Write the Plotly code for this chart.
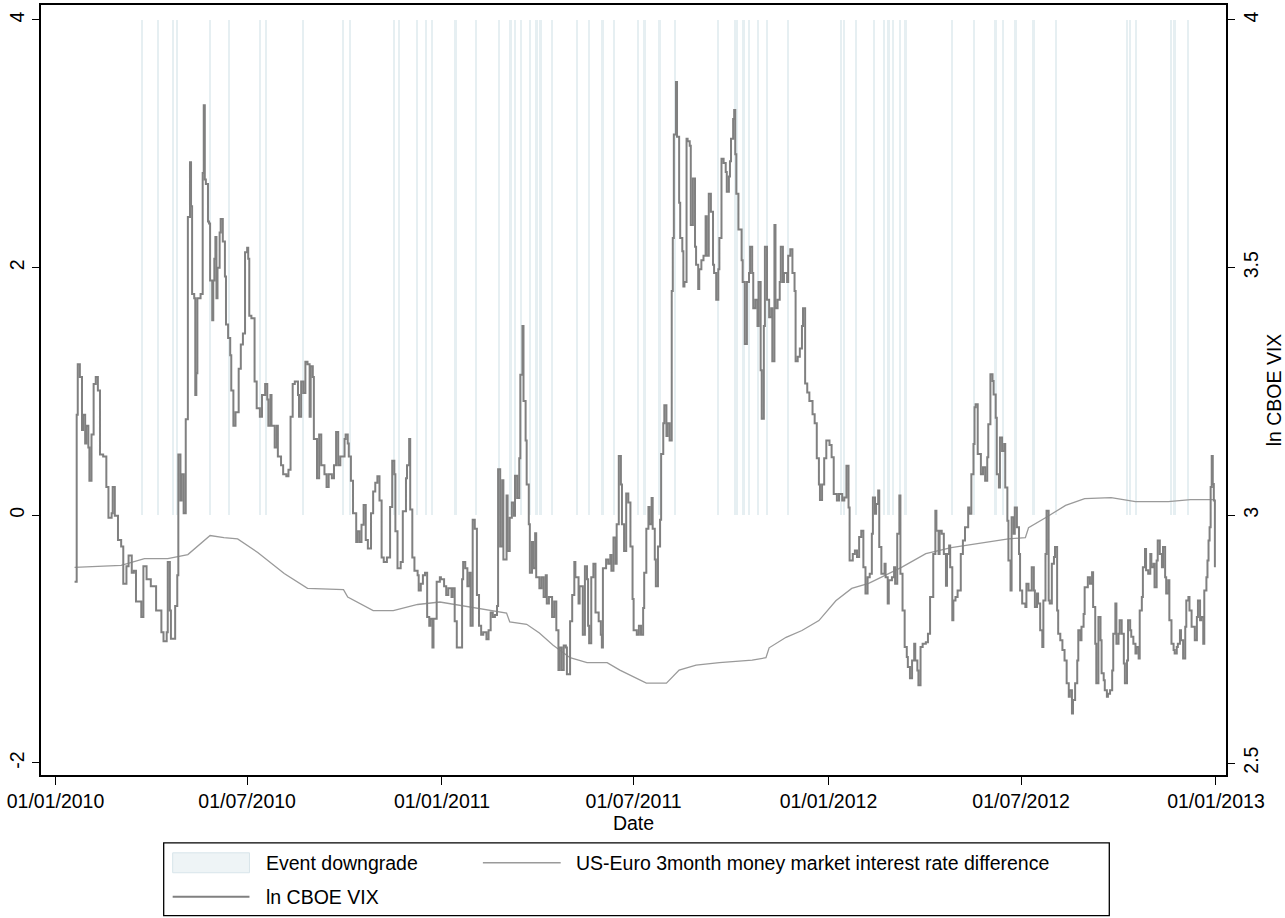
import pandas as pd
import plotly.graph_objects as go

# ---------------- data ----------------
# Event downgrade days (bars of height 4 on the left axis)
event_dates = [
    "2010-03-24", "2010-04-08", "2010-04-22", "2010-04-26", "2010-05-27", "2010-06-14",
    "2010-07-13", "2010-07-19", "2010-08-23", "2010-09-30", "2010-10-06", "2010-11-17",
    "2010-11-22", "2010-12-09", "2010-12-17", "2010-12-23", "2011-01-14", "2011-02-02",
    "2011-02-24", "2011-03-07", "2011-03-11", "2011-03-17", "2011-03-25", "2011-03-31",
    "2011-04-01", "2011-04-04", "2011-04-05", "2011-04-15", "2011-05-09", "2011-05-20",
    "2011-06-01", "2011-06-02", "2011-06-13", "2011-07-05", "2011-07-11", "2011-07-12",
    "2011-07-25", "2011-07-26", "2011-08-09", "2011-09-19", "2011-10-05", "2011-10-07",
    "2011-10-13", "2011-10-18", "2011-10-27", "2011-11-04", "2011-11-24", "2012-01-13",
    "2012-01-16", "2012-01-27", "2012-02-13", "2012-02-23", "2012-02-27", "2012-03-02",
    "2012-03-09", "2012-03-14", "2012-04-27", "2012-05-18", "2012-06-07", "2012-06-14",
    "2012-06-26", "2012-07-13", "2012-08-03", "2012-10-09", "2012-10-12", "2012-10-18",
    "2012-11-20", "2012-11-23", "2012-12-06",
]
event_height = 4

# US-Euro 3 month money market interest rate difference (left axis)
irate_dates = [
    "2010-01-19", "2010-02-10", "2010-03-04", "2010-03-26", "2010-04-17", "2010-05-06",
    "2010-05-16", "2010-05-27", "2010-06-09", "2010-06-22", "2010-07-11", "2010-08-05",
    "2010-08-27", "2010-09-30", "2010-10-04", "2010-10-28", "2010-11-16", "2010-12-09",
    "2010-12-30", "2011-01-27", "2011-02-22", "2011-03-03", "2011-03-06", "2011-03-22",
    "2011-04-03", "2011-04-16", "2011-05-02", "2011-05-18", "2011-06-06", "2011-06-18",
    "2011-07-13", "2011-08-01", "2011-08-13", "2011-08-29", "2011-09-20", "2011-10-21",
    "2011-11-03", "2011-11-06", "2011-11-22", "2011-12-07", "2011-12-23", "2012-01-08",
    "2012-01-23", "2012-02-08", "2012-03-10", "2012-04-02", "2012-04-26", "2012-05-29",
    "2012-06-19", "2012-07-05", "2012-07-08", "2012-07-24", "2012-08-12", "2012-08-30",
    "2012-09-24", "2012-10-17", "2012-11-17", "2012-12-08", "2012-12-31",
]
irate_values = [
    -0.42, -0.41, -0.405, -0.35, -0.35, -0.317,
    -0.244, -0.163, -0.18, -0.19, -0.30, -0.47,
    -0.59, -0.60, -0.66, -0.77, -0.77, -0.72,
    -0.70, -0.74, -0.78, -0.79, -0.86, -0.88,
    -0.95, -1.05, -1.15, -1.19, -1.19, -1.25,
    -1.355, -1.355, -1.25, -1.21, -1.19, -1.17,
    -1.15, -1.07, -0.985, -0.93, -0.85, -0.69,
    -0.59, -0.55, -0.42, -0.31, -0.26, -0.22,
    -0.19, -0.18, -0.10, -0.02, 0.08, 0.135,
    0.143, 0.11, 0.11, 0.126, 0.126,
]

# ln CBOE VIX (right axis); x given as days since 2010-01-01
vix_day = [
    18, 20, 21, 23, 25, 26, 28, 29, 31, 32, 34, 36, 38, 40, 42, 45, 48, 50, 53, 54,
    56, 59, 62, 64, 67, 69, 72, 74, 76, 79, 81, 83, 86, 90, 95, 100, 102, 105, 106, 108,
    109, 113, 115, 116, 118, 119, 121, 123, 125, 127, 128, 129, 131, 132, 133, 134, 137, 139, 140, 141,
    142, 144, 145, 146, 148, 149, 150, 151, 152, 153, 155, 156, 158, 160, 161, 163, 165, 166, 168, 170,
    173, 175, 177, 179, 181, 182, 183, 185, 188, 190, 193, 195, 198, 200, 201, 203, 204, 207, 209, 210,
    213, 215, 218, 220, 222, 224, 226, 229, 230, 232, 234, 236, 238, 240, 241, 243, 244, 247, 249, 251,
    254, 256, 258, 261, 263, 265, 267, 269, 273, 274, 276, 277, 279, 281, 284, 285, 287, 289, 291, 293,
    295, 298, 300, 302, 304, 306, 308, 310, 313, 316, 318, 320, 321, 323, 326, 328, 331, 332, 334, 335,
    337, 339, 342, 343, 345, 347, 349, 351, 353, 354, 356, 357, 360, 363,
    364, 367, 369, 371, 374, 375, 377, 379, 382, 384, 385, 387, 389, 391, 392, 394, 396, 398, 400, 402,
    404, 407, 409, 411, 413, 415, 417, 418, 420, 422, 423, 426, 427, 429, 431, 433, 434, 436, 438, 439,
    441, 442, 444, 445, 447, 448, 450, 451, 453, 454, 457, 459, 461, 463, 464, 466, 469, 471, 473, 475,
    476, 478, 480, 482, 483, 486, 488, 490, 491, 494, 495, 498, 500, 502, 503, 504, 506, 508, 510, 513,
    515, 516, 517, 520, 522, 524, 525, 527, 529, 530, 532, 534, 535, 537, 539, 541, 543, 545, 546, 549,
    551, 553, 555, 556, 558, 560, 561, 563, 564, 566, 567, 569, 571, 572, 574, 575, 577, 578, 580, 582,
    583, 584, 586, 587, 589, 590, 592, 593, 594, 596, 597, 599, 600, 602, 604, 605, 607, 608, 610, 612,
    614, 615, 617, 619, 621, 622, 624, 626, 627, 629, 631, 633, 634, 636, 637, 638, 640, 641, 642, 643,
    645, 648, 649, 651, 653, 655, 656, 658, 659, 661, 663, 664, 666, 667, 669, 670, 672, 674, 676, 677,
    679, 680, 682, 684, 685, 687, 688, 691, 692, 694, 696, 698, 699, 701, 703, 705, 706, 708, 710, 712,
    715, 717, 719, 721, 722, 724, 726, 728, 731,
    733, 735, 738, 740, 743, 745, 747, 749, 750, 753, 755, 757, 759, 761, 763, 765, 767, 769, 771, 772,
    774, 775, 777, 778, 780, 783, 784, 786, 787, 790, 792, 793, 795, 797, 798, 800, 802, 804, 805, 807,
    809, 811, 812, 814, 815, 817, 819, 822, 824, 826, 829, 831, 832, 834, 835, 837, 839, 841, 842, 844,
    845, 847, 848, 850, 852, 855, 857, 859, 862, 863, 865, 867, 868, 869, 871, 874, 876, 878, 880, 881,
    883, 885, 886, 888, 889, 891, 892, 894, 896, 897, 899, 900, 902, 903, 905, 906, 908, 910, 911, 913,
    916, 917, 919, 922, 924, 925, 927, 928, 930, 932, 933, 935, 936, 938, 939, 941, 943, 944, 946, 947,
    949, 951, 953, 955, 957, 958, 960, 961, 963, 965, 966, 968, 969, 971, 972, 975, 977, 979, 980, 982,
    983, 985, 987, 988, 990, 991, 993, 994, 996, 998, 999, 1001, 1002, 1004, 1005, 1007, 1009, 1010, 1012, 1013,
    1015, 1016, 1018, 1020, 1021, 1023, 1024, 1026, 1027, 1029, 1030, 1032, 1034, 1035, 1037, 1038, 1040, 1041, 1043, 1045,
    1046, 1048, 1049, 1051, 1052, 1054, 1056, 1057, 1059, 1060, 1062, 1063, 1065, 1067, 1068, 1070, 1071, 1073, 1074, 1076,
    1078, 1079, 1081, 1082, 1084, 1085, 1087, 1088, 1089, 1090, 1091, 1092, 1093, 1094, 1095,
]
vix_ln = [
    2.866, 3.203, 3.305, 3.279, 3.172, 3.203, 3.145, 3.181, 3.137, 3.070, 3.163, 3.265, 3.279, 3.252, 3.123, 3.119, 3.057, 2.995, 3.004, 3.057,
    2.999, 2.950, 2.937, 2.862, 2.897, 2.919, 2.884, 2.888, 2.826, 2.826, 2.795, 2.897, 2.871, 2.857, 2.808, 2.764, 2.746, 2.764, 2.906, 2.808,
    2.751, 2.817, 2.879, 3.123, 3.030, 3.083, 3.004, 3.194, 3.602, 3.713, 3.624, 3.447, 3.438, 3.243, 3.287, 3.438, 3.447, 3.691, 3.828, 3.678,
    3.669, 3.593, 3.589, 3.474, 3.394, 3.474, 3.518, 3.562, 3.438, 3.500, 3.571, 3.598, 3.553, 3.482, 3.385, 3.358, 3.323, 3.252, 3.181, 3.208,
    3.296, 3.345, 3.367, 3.531, 3.540, 3.518, 3.403, 3.398, 3.270, 3.216, 3.199, 3.243, 3.265, 3.234, 3.181, 3.243, 3.181, 3.137, 3.181, 3.119,
    3.101, 3.083, 3.079, 3.092, 3.199, 3.265, 3.270, 3.243, 3.199, 3.270, 3.247, 3.310, 3.305, 3.199, 3.301, 3.279, 3.154, 3.075, 3.163, 3.101,
    3.083, 3.057, 3.083, 3.075, 3.101, 3.168, 3.101, 3.119, 3.154, 3.163, 3.145, 3.119, 3.070, 3.004, 2.946, 2.968, 2.946, 2.981, 3.021, 2.950,
    2.933, 3.004, 3.048, 3.066, 3.079, 3.030, 2.915, 2.906, 2.915, 3.017, 3.110, 3.083, 2.968, 2.893, 2.906, 3.008, 3.075, 3.101, 3.154, 3.012,
    2.915, 2.888, 2.879, 2.848, 2.862, 2.879, 2.884, 2.795, 2.777, 2.791, 2.733, 2.791, 2.866, 2.875,
    2.871, 2.857, 2.839, 2.853, 2.835, 2.853, 2.786, 2.733, 2.733, 2.871, 2.906, 2.893, 2.857, 2.884, 2.777, 2.991, 2.973, 2.839, 2.777, 2.759,
    2.764, 2.750, 2.768, 2.804, 2.795, 2.799, 2.817, 3.093, 2.937, 3.071, 2.911, 3.040, 2.928, 2.995, 3.026, 2.999, 3.080, 3.035, 3.115, 3.284,
    3.382, 3.231, 3.151, 3.062, 2.982, 2.884, 2.946, 2.893, 2.964, 2.875, 2.853, 2.875, 2.835, 2.879, 2.822, 2.835, 2.795, 2.826, 2.768, 2.688,
    2.733, 2.688, 2.737, 2.733, 2.679, 2.786, 2.839, 2.906, 2.875, 2.822, 2.857, 2.759, 2.897, 2.871, 2.777, 2.742, 2.875, 2.902, 2.804, 2.786,
    2.759, 2.733, 2.893, 2.911, 2.902, 2.920, 2.888, 2.955, 2.902, 2.982, 3.120, 3.062, 2.982, 2.928, 3.044, 3.026, 2.937, 2.831, 2.768, 2.759,
    2.777, 2.759, 2.813, 2.884, 2.973, 3.017, 2.982, 3.035, 2.973, 2.911, 2.857, 2.937, 2.991, 3.124, 3.186, 3.222, 3.160, 3.186, 3.151, 3.453,
    3.560, 3.769, 3.875, 3.764, 3.631, 3.560, 3.533, 3.462, 3.471, 3.760, 3.755, 3.746, 3.586, 3.680, 3.542, 3.506, 3.457, 3.497, 3.515, 3.524,
    3.604, 3.524, 3.649, 3.613, 3.506, 3.489, 3.435, 3.497, 3.560, 3.720, 3.711, 3.693, 3.653, 3.684, 3.715, 3.760, 3.800, 3.818, 3.729, 3.649,
    3.577, 3.515, 3.471, 3.346, 3.471, 3.489, 3.542, 3.489, 3.418, 3.435, 3.382, 3.471, 3.293, 3.195, 3.382, 3.542, 3.435, 3.400, 3.418, 3.311,
    3.586, 3.418, 3.435, 3.471, 3.542, 3.471, 3.489, 3.471, 3.524, 3.537, 3.489, 3.453, 3.311, 3.320, 3.337, 3.382, 3.418, 3.266, 3.248, 3.231,
    3.204, 3.186, 3.115, 3.062, 3.031, 3.062, 3.115, 3.151, 3.142,
    3.117, 3.043, 3.030, 3.043, 3.030, 3.036, 3.100, 3.016, 2.909, 2.922, 2.929, 2.916, 2.956, 2.969, 2.895, 2.842, 2.875, 2.882, 2.963, 3.036,
    3.003, 3.023, 3.050, 2.936, 2.882, 2.902, 2.875, 2.822, 2.869, 2.875, 2.895, 2.862, 2.963, 3.040, 2.882, 2.808, 2.734, 2.714, 2.694, 2.671,
    2.707, 2.741, 2.707, 2.687, 2.657, 2.734, 2.741, 2.744, 2.761, 2.835, 2.922, 3.009, 2.969, 2.922, 2.969, 2.963, 2.922, 2.858, 2.922, 2.939,
    2.895, 2.788, 2.828, 2.835, 2.848, 2.922, 2.949, 2.976, 3.016, 3.003, 3.083, 3.144, 3.218, 3.224, 3.124, 3.083, 3.097, 3.070, 3.117, 3.184,
    3.285, 3.271, 3.244, 3.197, 3.083, 3.056, 3.157, 3.130, 3.144, 3.056, 2.989, 2.909, 2.848, 2.996, 2.963, 3.016, 2.976, 2.922, 2.848, 2.822,
    2.815, 2.862, 2.848, 2.895, 2.848, 2.815, 2.842, 2.822, 2.768, 2.734, 2.828, 2.922, 3.009, 2.828, 2.822, 2.902, 2.916, 2.936, 2.808, 2.761,
    2.748, 2.728, 2.707, 2.661, 2.634, 2.647, 2.600, 2.627, 2.661, 2.707, 2.768, 2.748, 2.775, 2.801, 2.855, 2.875, 2.862, 2.885, 2.815, 2.741,
    2.661, 2.795, 2.748, 2.681, 2.667, 2.647, 2.634, 2.640, 2.647, 2.687, 2.761, 2.822, 2.741, 2.761, 2.788, 2.761, 2.701, 2.661, 2.707, 2.788,
    2.768, 2.755, 2.741, 2.721, 2.734, 2.711, 2.808, 2.835, 2.895, 2.932, 2.889, 2.882, 2.922, 2.895, 2.902, 2.855, 2.909, 2.949, 2.922, 2.895,
    2.936, 2.875, 2.842, 2.869, 2.788, 2.741, 2.728, 2.721, 2.734, 2.741, 2.768, 2.748, 2.711, 2.775, 2.828, 2.835, 2.808, 2.775, 2.775, 2.748,
    2.795, 2.828, 2.788, 2.795, 2.741, 2.848, 2.875, 2.909, 2.949, 2.976, 3.057, 3.120, 3.063, 3.030, 2.895,
]

x_ticks = ["2010-01-01", "2010-07-01", "2011-01-01", "2011-07-01",
           "2012-01-01", "2012-07-01", "2013-01-01"]
y_left_ticks = [-2, 0, 2, 4]
y_right_ticks = [2.5, 3, 3.5, 4]
legend_labels = ["Event downgrade",
                 "US-Euro 3month money market interest rate difference",
                 "ln CBOE VIX"]

# ---------------- figure ----------------
vix_dates = pd.Timestamp("2010-01-01") + pd.to_timedelta(vix_day, unit="D")

FONT = "Liberation Sans, Arial, sans-serif"
FS = 19.5
W, H = 1285, 918
L, R, T, B = 41, 1229, 3, 775   # plot area in pixels

def px_x(x):
    return (x - L) / (R - L)

def px_y(y):
    return (B - y) / (B - T)

fig = go.Figure()
fig.add_trace(go.Bar(
    x=event_dates, y=[event_height] * len(event_dates),
    width=1.6 * 86400000, marker=dict(color="#e6eff2", line=dict(width=0)),
    name=legend_labels[0], yaxis="y", showlegend=False,
))
fig.add_trace(go.Scatter(
    x=irate_dates, y=irate_values, mode="lines",
    line=dict(color="#9a9a9a", width=1.3),
    name=legend_labels[1], yaxis="y", showlegend=False,
))
fig.add_trace(go.Scatter(
    x=vix_dates, y=vix_ln, mode="lines",
    line=dict(color="#808080", width=2, shape="hv"),
    name=legend_labels[2], yaxis="y2", showlegend=False,
))

axis_common = dict(
    showgrid=False, zeroline=False, showline=True, linecolor="black",
    linewidth=1.6, ticks="outside", tickcolor="black", tickwidth=1.4,
    tickfont=dict(family=FONT, size=FS, color="black"),
)

fig.update_layout(
    width=W, height=H, autosize=False,
    margin=dict(l=L, r=W - R, t=T, b=H - B, pad=0),
    paper_bgcolor="white", plot_bgcolor="white",
    font=dict(family=FONT, size=FS, color="black"),
    barmode="overlay", bargap=0,
    showlegend=False,
    xaxis=dict(
        type="date", range=["2009-12-18 07:00", "2013-01-10 12:00"],
        tickvals=x_ticks, tickformat="%d/%m/%Y", ticklen=8, mirror=True,
        title=dict(text="Date", font=dict(family=FONT, size=FS), standoff=0),
        **axis_common,
    ),
    yaxis=dict(
        range=[-2.097, 4.121], tickvals=y_left_ticks,
        ticktext=[str(v) for v in y_left_ticks], tickangle=-90, ticklen=7,
        mirror=True, **axis_common,
    ),
    yaxis2=dict(
        range=[2.4758, 4.0302], overlaying="y", side="right",
        tickvals=y_right_ticks, ticktext=["2.5", "3", "3.5", "4"],
        tickangle=-90, ticklen=7,
        title=dict(text="ln CBOE VIX", font=dict(family=FONT, size=FS), standoff=6),
        **axis_common,
    ),
)

# hand-drawn legend box (Stata style)
shapes = [
    dict(type="rect", xref="paper", yref="paper",
         x0=px_x(164), x1=px_x(1112), y0=px_y(843), y1=px_y(916),
         line=dict(color="black", width=1.3), fillcolor="white", layer="above"),
    dict(type="rect", xref="paper", yref="paper",
         x0=px_x(173), x1=px_x(250), y0=px_y(853), y1=px_y(873),
         line=dict(color="#d8e5ea", width=1), fillcolor="#eef4f6", layer="above"),
    dict(type="line", xref="paper", yref="paper",
         x0=px_x(484), x1=px_x(562), y0=px_y(863), y1=px_y(863),
         line=dict(color="#9a9a9a", width=1.3), layer="above"),
    dict(type="line", xref="paper", yref="paper",
         x0=px_x(173), x1=px_x(250), y0=px_y(897), y1=px_y(897),
         line=dict(color="#808080", width=2), layer="above"),
]
annotations = [
    dict(text=legend_labels[0], x=px_x(265), y=px_y(863)),
    dict(text=legend_labels[1], x=px_x(575), y=px_y(863)),
    dict(text=legend_labels[2], x=px_x(265), y=px_y(897)),
]
for a in annotations:
    a.update(xref="paper", yref="paper", xanchor="left", yanchor="middle",
             showarrow=False, font=dict(family=FONT, size=FS, color="black"))
fig.update_layout(shapes=shapes, annotations=annotations)

fig.write_html("out.html", config={"displayModeBar": False},
               post_script="document.body.style.margin='0';")
